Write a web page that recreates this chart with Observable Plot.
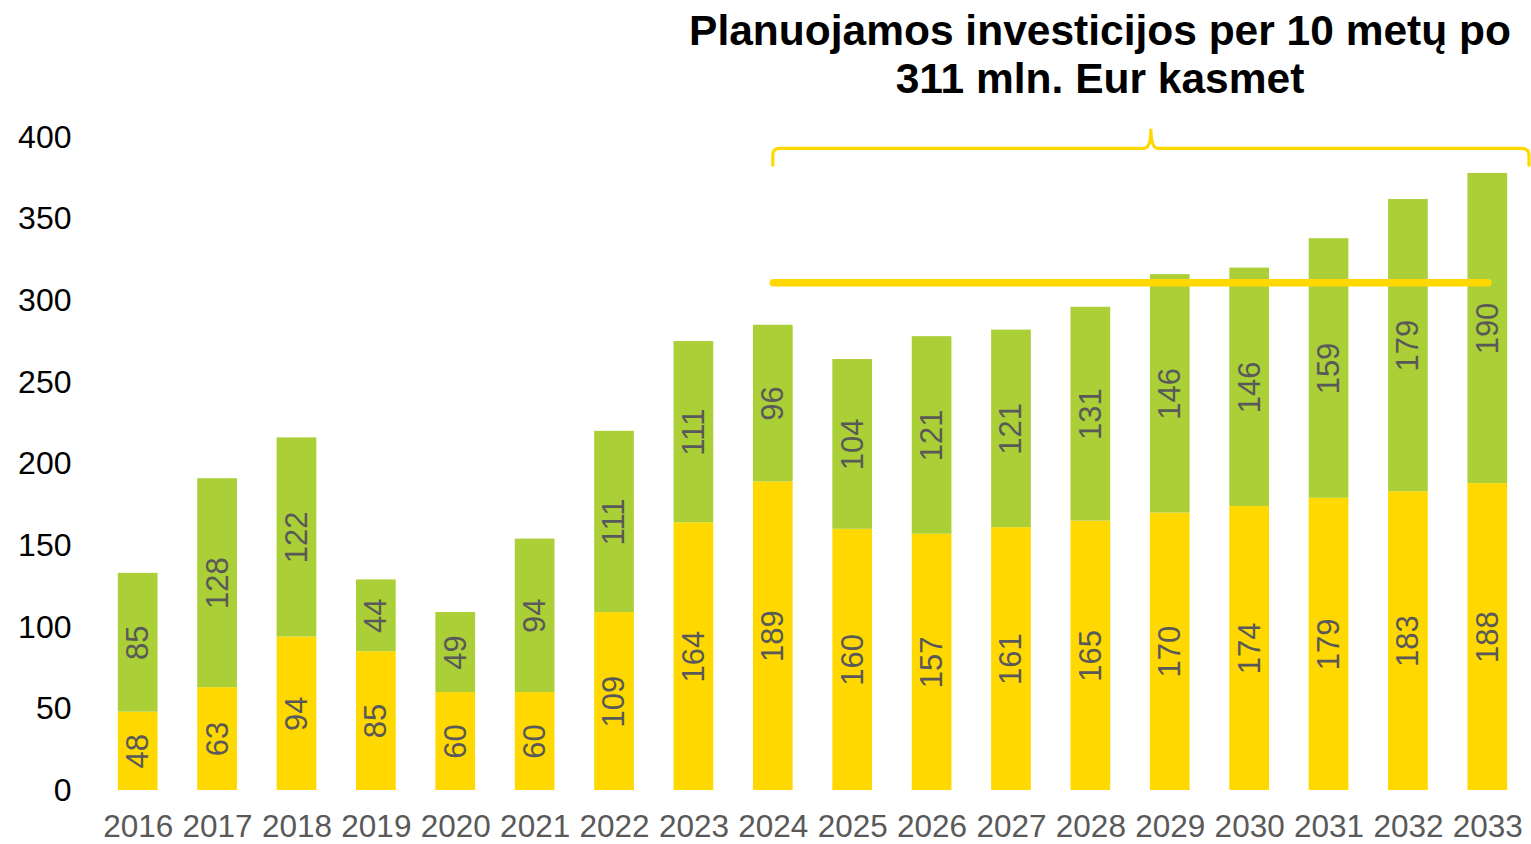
<!DOCTYPE html>
<html><head><meta charset="utf-8">
<script src="https://cdn.jsdelivr.net/npm/d3@7"></script>
<script src="https://cdn.jsdelivr.net/npm/@observablehq/plot@0.6"></script>
<style>
body{margin:0;background:#fff;font-family:"Liberation Sans",Arial,sans-serif;}
#title{position:relative;height:110px;}
#title div{position:absolute;left:600px;width:1000px;top:7px;text-align:center;font-weight:bold;font-size:42.5px;line-height:48px;color:#000;}
#chart svg{display:block;overflow:visible;}
</style></head><body>
<div id="title"><div>Planuojamos investicijos per 10 metų po<br>311 mln. Eur kasmet</div></div>
<div id="chart"></div>
<script>
const years = ["2016","2017","2018","2019","2020","2021","2022","2023","2024","2025","2026","2027","2028","2029","2030","2031","2032","2033"];
const lowerValues = [48,63,94,85,60,60,109,164,189,160,157,161,165,170,174,179,183,188];
const upperValues = [85,128,122,44,49,94,111,111,96,104,121,121,131,146,146,159,179,190];
const seriesNames = ["Apatinė dalis","Viršutinė dalis"];
const seriesColors = ["#FFD800","#ABCF37"];
const yTicks = [0,50,100,150,200,250,300,350,400];
const averageYears = ["2024","2033"];
const averageValue = 311;
// brace annotation levels (in y units)
const braceLevel = 393, braceTip = 382, bracePeak = 405;

const rows = [];
years.forEach((yr, i) => {
  const a = lowerValues[i], b = upperValues[i];
  rows.push({year: yr, series: seriesNames[0], value: a, y1: 0, y2: a, mid: a / 2});
  rows.push({year: yr, series: seriesNames[1], value: b, y1: a, y2: a + b, mid: a + b / 2});
});
const avgLine = averageYears.map(y => ({year: y, value: averageValue}));

const font = '"Liberation Sans", Arial, sans-serif';
const plot = Plot.plot({
  width: 1531, height: 734,
  marginLeft: 98, marginRight: 4, marginTop: 27, marginBottom: 54,
  style: {fontFamily: font, background: "transparent", overflow: "visible"},
  x: {type: "band", domain: years, paddingInner: 0.5, paddingOuter: 0.25, round: false, label: null},
  y: {domain: [0, 400], label: null},
  color: {domain: seriesNames, range: seriesColors},
  marks: [
    Plot.axisY(yTicks, {tickSize: 0, tickPadding: 27, fontSize: 32, fill: "#000", label: null}),
    Plot.axisX({tickSize: 0, tickPadding: 24, fontSize: 31.5, fill: "#595959", label: null}),
    Plot.barY(rows, {x: "year", y1: "y1", y2: "y2", fill: "series"}),
    Plot.line(avgLine, {x: "year", y: "value", stroke: seriesColors[0], strokeWidth: 7.5, strokeLinecap: "round"}),
    Plot.text(rows, {x: "year", y: "mid", text: d => String(d.value), rotate: -90, fill: "#595959", fontSize: 31})
  ]
});
document.getElementById("chart").appendChild(plot);

// brace built from the plot's own scales
const xs = plot.scale("x"), ys = plot.scale("y");
const xb = d3.scaleBand().domain(xs.domain).range(xs.range)
  .paddingInner(xs.paddingInner).paddingOuter(xs.paddingOuter).align(xs.align ?? 0.5);
const yl = d3.scaleLinear(ys.domain, ys.range);
const xL = xb(averageYears[0]) + xb.bandwidth() / 2;
const xR = xb(averageYears[1]) + xb.bandwidth() / 2 + xb.step() / 2 + 2;
const xM = (xL + xR) / 2;
const yH = yl(braceLevel), yT = yl(braceTip), yP = yl(bracePeak);
const r = 7;
const path = `M${xL},${yT} L${xL},${yH + r} Q${xL},${yH} ${xL + r},${yH} L${xM - r},${yH} Q${xM},${yH} ${xM},${yP} Q${xM},${yH} ${xM + r},${yH} L${xR - r},${yH} Q${xR},${yH} ${xR},${yH + r} L${xR},${yT}`;
d3.select(plot).append("path").attr("d", path).attr("fill", "none")
  .attr("stroke", seriesColors[0]).attr("stroke-width", 3.2);
</script>
</body></html>
